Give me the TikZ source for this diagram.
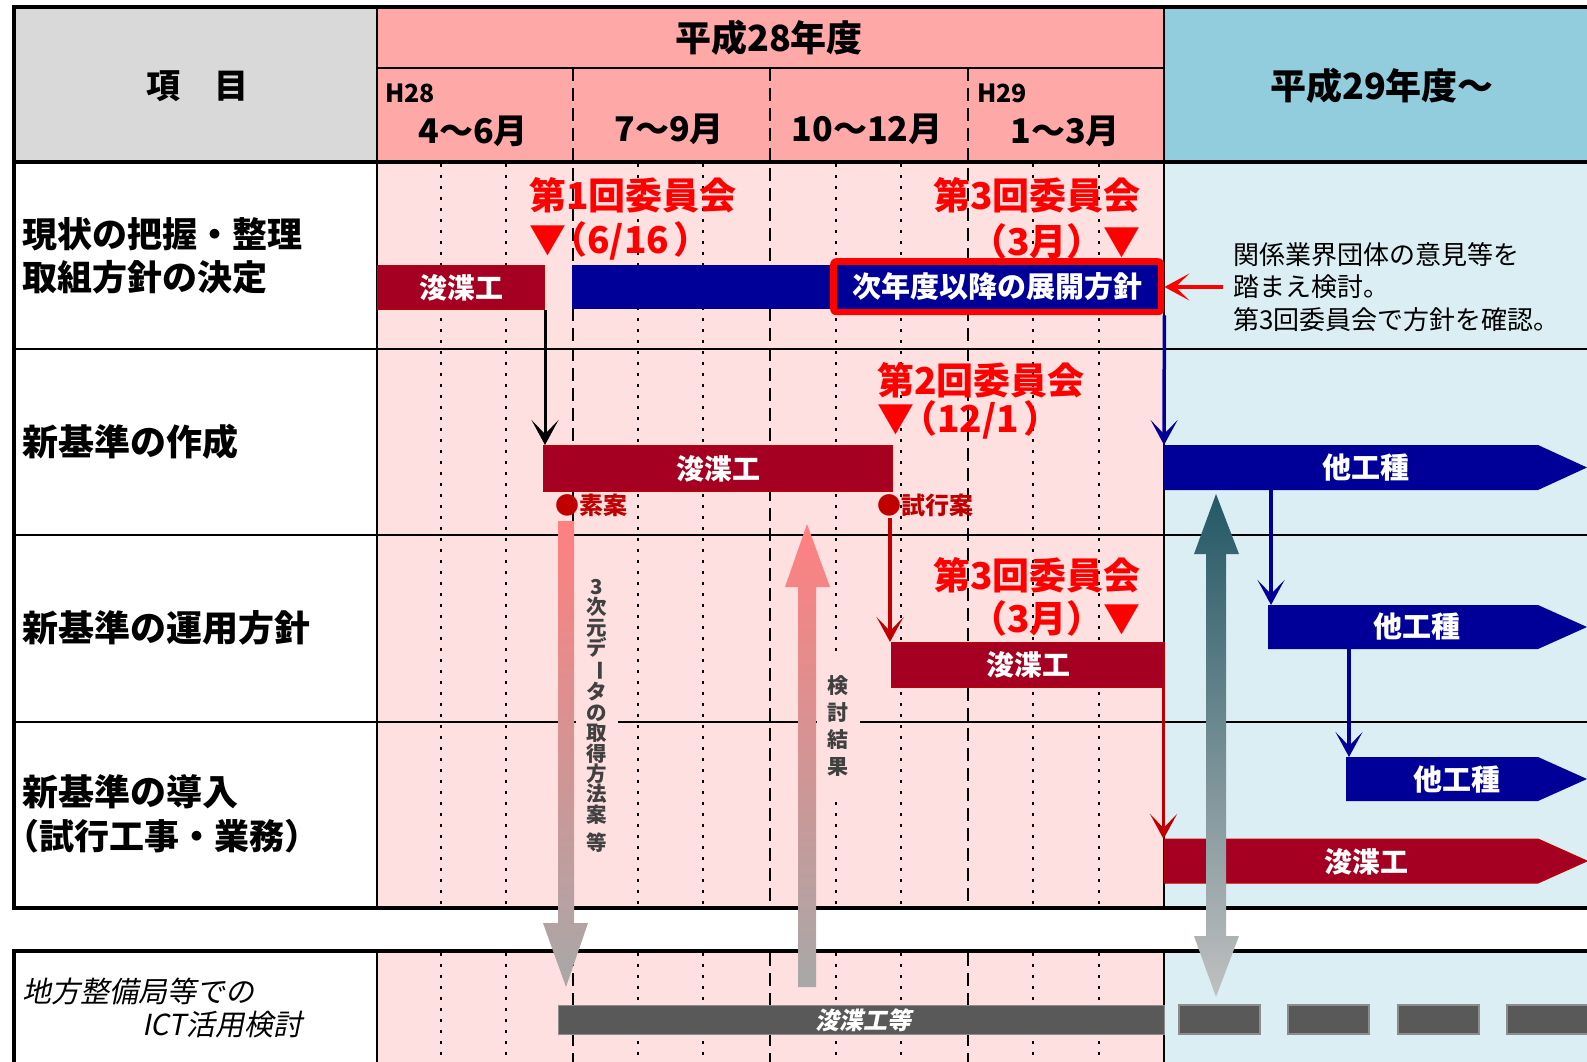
\documentclass[tikz,border=0pt]{standalone}
\usepackage{fontspec}
\setmainfont{Noto Sans CJK JP}
\newfontfamily\jpsl[FakeSlant=0.2,BoldFeatures={FakeSlant=0.2}]{Noto Sans CJK JP}
\usetikzlibrary{arrows.meta}
\newcommand\fsz[1]{\fontsize{#1pt}{#1pt}\selectfont}
\definecolor{hgray}{RGB}{217,217,217}
\definecolor{hpink}{RGB}{255,168,168}
\definecolor{bpink}{RGB}{255,224,224}
\definecolor{hblue}{RGB}{146,205,221}
\definecolor{bblue}{RGB}{219,238,243}
\definecolor{dred}{RGB}{165,0,33}
\definecolor{mred}{RGB}{192,0,0}
\definecolor{navyc}{RGB}{0,0,153}
\definecolor{bred}{RGB}{255,0,0}
\definecolor{dgray}{RGB}{89,89,89}
\definecolor{lgray}{RGB}{140,140,140}
\definecolor{tgray}{RGB}{64,64,64}
\definecolor{apink}{RGB}{255,128,128}
\definecolor{agray}{RGB}{168,168,168}
\definecolor{ateal}{RGB}{36,88,102}
\definecolor{ltgray}{RGB}{192,192,192}
\tikzset{
 every node/.style={inner sep=0pt},
 hdr/.style={font=\bfseries\fsz{34}},
 rowlbl/.style={anchor=west, font=\bfseries\fsz{35}},
 redlbl/.style={text=bred, font=\bfseries\fsz{37}},
 bartext/.style={text=white, font=\bfseries\fsz{28}},
 barR/.style={fill=dred, draw=mred, line width=1pt, anchor=north west},
 barB/.style={fill=navyc, anchor=north west},
 dotline/.style={line width=2.8pt, dash pattern=on 3pt off 8pt},
 dashline/.style={line width=2.8pt, dash pattern=on 13pt off 7pt},
 thinrule/.style={line width=2pt},
 conn/.style={line width=3.5pt, -{Stealth[length=25pt,width=27pt,inset=14pt]}},
 vtext/.style={fill=bpink, align=center, text=tgray, inner xsep=11pt, inner ysep=22pt},
 dotlbl/.style={anchor=west, text=mred, font=\bfseries\fsz{24}},
 grayblock/.style={fill=dgray, draw=lgray, line width=1.2pt}
}
\begin{document}
\begin{tikzpicture}[x=1pt,y=-1pt]
\useasboundingbox (0,0) rectangle (1587,1062);
\fill[white] (0,0) rectangle (1587,1062);
% backgrounds
\fill[hgray] (14,7) rectangle (377,162);
\fill[hpink] (377,7) rectangle (1164,162);
\fill[hblue] (1164,7) rectangle (1587,162);
\fill[bpink] (377,162) rectangle (1164,908);
\fill[bblue] (1164,162) rectangle (1587,908);
\fill[bpink] (377,951) rectangle (1164,1062);
\fill[bblue] (1164,951) rectangle (1587,1062);
% grid
\foreach \x in {441,506,638,703,836,901,1033,1099} {
  \draw[dotline] (\x,164) -- (\x,908);
  \draw[dotline] (\x,953) -- (\x,1062);
}
\foreach \x in {573,770,968} {
  \draw[dashline] (\x,68) -- (\x,908);
  \draw[dashline] (\x,953) -- (\x,1062);
}
\foreach \y in {349,535,722} \draw[thinrule] (14,\y) -- (1587,\y);
\draw[line width=2pt] (377,68) -- (1164,68);
\draw[line width=2.5pt] (377,7) -- (377,908) (1164,7) -- (1164,908) (377,951) -- (377,1062) (1164,951) -- (1164,1062);
\draw[line width=4pt] (1587,7) -- (14,7) -- (14,908) -- (1587,908);
\draw[line width=3.5pt] (14,162) -- (1587,162);
\draw[line width=4pt] (1587,951) -- (14,951) -- (14,1062);

% header texts
\node[hdr, font=\bfseries\fsz{34}] (hkoumoku) at (197,86) {項　目};
\node[hdr, font=\bfseries\fsz{36}] (hh28) at (769,38) {平成28年度};
\node[hdr, font=\bfseries\fsz{25}, anchor=west] (hq1a) at (385,93) {H28};
\node[hdr] (hq1) at (473,131) {4〜6月};
\node[hdr] (hq2) at (669,129) {7〜9月};
\node[hdr] (hq3) at (867,129) {10〜12月};
\node[hdr, font=\bfseries\fsz{25}, anchor=west] (hq4a) at (977,93) {H29};
\node[hdr] (hq4) at (1065,131) {1〜3月};
\node[hdr, font=\bfseries\fsz{36}] (hh29) at (1382,86) {平成29年度〜};

% row labels
\node[rowlbl] (l1a) at (22,234) {現状の把握・整理};
\node[rowlbl] (l1b) at (22,277) {取組方針の決定};
\node[rowlbl, font=\bfseries\fsz{36}] (l2) at (22,442) {新基準の作成};
\node[rowlbl, font=\bfseries\fsz{36}] (l3) at (22,628) {新基準の運用方針};
\node[rowlbl, font=\bfseries\fsz{36}] (l4a) at (22,792) {新基準の導入};
\node[rowlbl] (l4b) at (4,836) {（試行工事・業務）};
\node[anchor=west, font=\jpsl\fsz{29}] (l5a) at (22,991) {地方整備局等での};
\node[anchor=west, font=\jpsl\fsz{29}] (l5b) at (142,1025) {ICT活用検討};

% committee labels
\node[redlbl, anchor=west] (c1a) at (529,195) {第1回委員会};
\node[redlbl, anchor=west] (c1b) at (529,241) {▼\kern-16pt（6/16\kern4pt）};
\node[redlbl, anchor=east] (c3a) at (1141,195) {第3回委員会};
\node[redlbl, anchor=east] (c3b) at (1141,241) {（3月）▼};
\node[redlbl, anchor=west] (c2a) at (877,380) {第2回委員会};
\node[redlbl, anchor=west] (c2b) at (877,420) {▼\kern-14pt（12/1\kern4pt）};
\node[redlbl, anchor=east] (c3c) at (1141,575) {第3回委員会};
\node[redlbl, anchor=east] (c3d) at (1141,618) {（3月）▼};

% vertical texts
\node[vtext, font=\bfseries\fontsize{20.5pt}{20.4pt}\selectfont] (v1) at (597,716)
 {3\\次\\元\\デ\\\rotatebox[origin=c]{-90}{ー}\\タ\\の\\取\\得\\方\\法\\案\\[8pt]等};
\node[vtext, font=\bfseries\fontsize{21pt}{26.7pt}\selectfont] (v2) at (838,726) {検\\討\\結\\果};

% row 1 bars
\node[barR, minimum width=167pt, minimum height=44pt] (r1a) at (377,265) {};
\node[bartext] (r1at) at (r1a.center) {浚渫工};
\node[barB, minimum width=258pt, minimum height=44pt] (r1b) at (572,265) {};
\node[fill=bred, rounded corners=6pt, minimum width=334pt, minimum height=57pt, anchor=north west] (redbox) at (830,258) {};
\node[fill=navyc, minimum width=321pt, minimum height=44pt, bartext, font=\bfseries\fsz{29}] (plan) at (redbox.center) {次年度以降の展開方針};
\node[anchor=west, align=left, font=\fontsize{26pt}{32.5pt}\selectfont] (note) at (1233,287)
 {関係業界団体の意見等を\\踏まえ検討。\\第3回委員会で方針を確認。};

% row 2
\node[barR, minimum width=349pt, minimum height=46pt] (r2) at (543,445) {};
\node[bartext] (r2t) at (r2.center) {浚渫工};
\node[dotlbl] (soan) at (555,505) {●素案};
\node[dotlbl] (shikou) at (877,505) {●試行案};
\coordinate (skdot) at (890,518);

% row 3
\node[barR, minimum width=273pt, minimum height=45pt] (r3) at (891,642) {};
\node[bartext] (r3t) at (r3.center) {浚渫工};

% pentagon bars
\fill[navyc] (1164,445) -- (1538,445) -- (1587,467.5) -- (1538,490) -- (1164,490) -- cycle;
\node[bartext, font=\bfseries\fsz{29}] (t1) at (1366,468) {他工種};
\coordinate (t1tl) at (1164,445);
\coordinate (t1b) at (1271,490);
\fill[navyc] (1268,605) -- (1538,605) -- (1587,627) -- (1538,649) -- (1268,649) -- cycle;
\node[bartext, font=\bfseries\fsz{29}] (t2) at (1417,627) {他工種};
\coordinate (t2t) at (1271,605);
\coordinate (t2b) at (1349,649);
\fill[navyc] (1346,757) -- (1538,757) -- (1587,779) -- (1538,801) -- (1346,801) -- cycle;
\node[bartext, font=\bfseries\fsz{29}] (t3) at (1457,780) {他工種};
\coordinate (t3t) at (1349,757);
\filldraw[fill=dred, draw=mred, line width=1pt] (1164,839) -- (1538,839) -- (1587,861) -- (1538,883) -- (1164,883) -- cycle;
\node[bartext] (t4) at (1366,862) {浚渫工};
\coordinate (t4tl) at (1163,839);

% lower bar
\node[grayblock, minimum width=606pt, minimum height=29pt, anchor=north west] (ict) at (558,1005) {};
\node[text=white, font=\jpsl\bfseries\fsz{24}] (ictt) at (863,1020) {浚渫工等};
\foreach \a/\b in {1179/1260,1288/1369,1398/1479,1507/1595}
  \filldraw[grayblock] (\a,1005) rectangle (\b,1034);

% big arrows
\shade[top color=apink, bottom color=agray] (558,521) -- (574,521) -- (574,923) -- (588,923) -- (566,987) -- (543,923) -- (558,923) -- cycle;
\shade[top color=apink, bottom color=agray] (807,524) -- (830,587) -- (816,587) -- (816,987) -- (798,987) -- (798,587) -- (785,587) -- cycle;
\shade[top color=ateal, bottom color=ltgray] (1216,494) -- (1239,554) -- (1226,554) -- (1226,936) -- (1239,936) -- (1216,997) -- (1194,936) -- (1206,936) -- (1206,554) -- (1194,554) -- cycle;

% connectors
\draw[conn, black, line width=3pt] (r1a.south east) -- (r1a.south east |- r2.north);
\draw[conn, navyc] (redbox.south east) -- (t1tl);
\draw[conn, bred] ([xshift=-10pt]note.west) -- (note.west -| redbox.east);
\draw[conn, mred] (skdot) -- (skdot |- r3.north);
\draw[conn, navyc] (t1b) -- (t2t);
\draw[conn, navyc] (t2b) -- (t3t);
\draw[conn, mred] ([xshift=-1.5pt]r3.south east) -- ([xshift=-1.5pt]r3.south east |- t4tl);
\end{tikzpicture}
\end{document}
